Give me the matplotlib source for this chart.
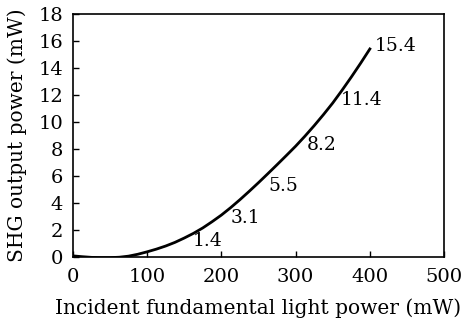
import matplotlib
matplotlib.use("Agg")
import matplotlib.pyplot as plt

# Data
incident_power = [0, 12.5, 25, 37.5, 50, 62.5, 75, 87.5, 100, 112.5, 125, 137.5, 150, 162.5, 175, 187.5,
                  200, 212.5, 225, 237.5, 250, 262.5, 275, 287.5, 300, 312.5, 325, 337.5, 350, 362.5, 375, 387.5, 400]
shg_power = [0.08, 0.02, -0.03, -0.05, -0.05, -0.02, 0.06, 0.2, 0.38, 0.58, 0.81, 1.08, 1.4, 1.75, 2.15, 2.61,
             3.1, 3.65, 4.24, 4.86, 5.5, 6.16, 6.83, 7.51, 8.2, 8.94, 9.72, 10.54, 11.4, 12.34, 13.32, 14.34, 15.4]

label_values = ["1.4", "3.1", "5.5", "8.2", "11.4", "15.4"]
label_pos_x = [182, 232, 284, 335, 389, 435]
label_pos_y = [1.2, 2.85, 5.26, 8.26, 11.6, 15.6]

x_ticks = [0, 100, 200, 300, 400, 500]
y_ticks = [0, 2, 4, 6, 8, 10, 12, 14, 16, 18]

plt.rcParams['font.family'] = ['DejaVu Serif']

fig = plt.figure(figsize=(4.67, 3.22), dpi=100)
ax = fig.add_axes([0.156, 0.202, 0.795, 0.755])

ax.plot(incident_power, shg_power, color='black', linewidth=2.0)

for px, py, t in zip(label_pos_x, label_pos_y, label_values):
    ax.text(px, py, t, ha='center', va='center', fontsize=13.5, color='black')

ax.set_xlim(0, 500)
ax.set_ylim(0, 18)
ax.set_xticks(x_ticks)
ax.set_yticks(y_ticks)
ax.tick_params(direction='in', length=4, width=1, labelsize=14)
ax.tick_params(axis='x', pad=8)
ax.tick_params(axis='y', pad=7)
for s in ax.spines.values():
    s.set_linewidth(1.2)

ax.set_xlabel("Incident fundamental light power (mW)", fontsize=14.5, labelpad=9)
ax.set_ylabel("SHG output power (mW)", fontsize=14.5, labelpad=8)

fig.savefig("out.png", dpi=100)
